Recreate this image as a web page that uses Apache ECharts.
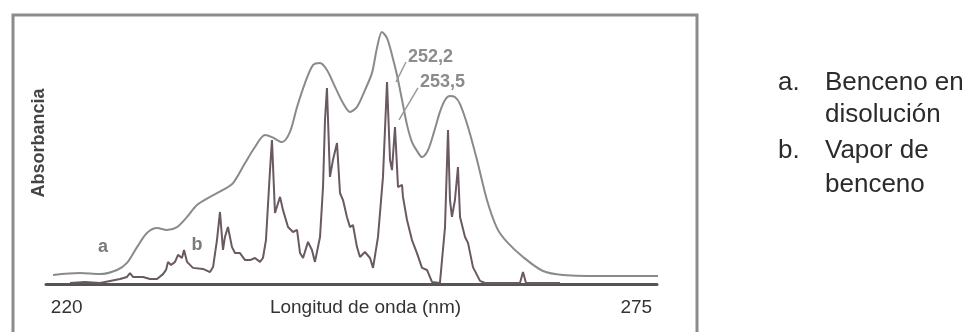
<!DOCTYPE html>
<html>
<head>
<meta charset="utf-8">
<script src="https://cdn.jsdelivr.net/npm/echarts@6/dist/echarts.min.js"></script>
<style>
  html, body { margin: 0; padding: 0; background: #fff; }
  #chart { width: 966px; height: 332px; }
</style>
</head>
<body>
<div id="chart"></div>
<script>
// curva a: benceno en disolución (longitud de onda en nm, absorbancia relativa)
var waveA = [218.68, 221.28, 223.21, 224.86, 225.82, 226.79, 227.75, 228.72, 229.68, 230.65,
  231.62, 232.58, 233.84, 235.09, 236.06, 237.22, 238.18, 239.15, 239.82, 240.79,
  241.56, 242.24, 243.01, 243.78, 244.46, 245.13, 245.91, 246.68, 247.35, 248.03,
  248.80, 249.48, 249.96, 250.44, 250.93, 251.41, 251.89, 252.38, 252.86, 253.34,
  253.82, 254.31, 254.89, 255.47, 256.04, 256.53, 257.01, 257.49, 257.98, 258.75,
  259.62, 260.58, 261.55, 262.51, 264.06, 265.99, 267.92, 272.46, 277.7];
var absA = [3.5, 4.2, 3.8, 5.4, 8.1, 14.2, 19.6, 21.5, 20.8, 21.9,
  25.8, 30.4, 33.5, 36.2, 38.8, 46.5, 52.7, 57.3, 56.5, 54.6,
  58.5, 68.1, 77.3, 84.2, 85.0, 82.3, 75.8, 69.6, 66.2, 68.1,
  74.6, 81.2, 90.8, 96.9, 94.6, 88.1, 80.4, 70.8, 61.2, 54.6,
  51.2, 48.8, 51.5, 58.5, 66.2, 70.8, 72.3, 71.9, 69.2, 60.4,
  47.7, 32.3, 21.5, 16.2, 10.4, 5.0, 3.5, 3.1, 3.1];

// curva b: vapor de benceno
var waveB = [220.32, 221.77, 223.21, 225.15, 225.82, 226.11, 226.40, 227.37, 228.04, 228.72,
  229.30, 229.59, 229.78, 230.07, 230.46, 230.75, 230.94, 231.13, 231.33, 231.62,
  232.19, 233.16, 233.84, 234.13, 234.51, 234.80, 235.09, 235.28, 235.57, 235.96,
  236.25, 236.73, 237.22, 237.70, 238.18, 238.66, 238.95, 239.24, 239.63, 239.82,
  240.11, 240.60, 240.88, 241.37, 241.85, 242.24, 242.53, 242.82, 243.30, 243.68,
  243.97, 244.46, 244.75, 244.94, 245.13, 245.42, 245.71, 246.10, 246.39, 246.68,
  247.06, 247.35, 247.64, 248.03, 248.32, 248.80, 249.29, 249.58, 250.06, 250.54,
  250.93, 251.22, 251.41, 251.70, 251.99, 252.38, 252.47, 252.86, 253.34, 253.82,
  254.31, 254.79, 255.27, 256.04, 256.53, 256.82, 257.01, 257.20, 257.49, 257.78,
  257.98, 258.46, 258.75, 259.23, 259.91, 260.39, 263.77, 264.06, 264.35, 267.63];
var absB = [0.4, 0.8, 0.4, 1.9, 2.7, 4.2, 2.7, 2.7, 1.9, 1.9,
  3.8, 5.4, 8.5, 7.3, 8.5, 11.2, 11.5, 10.0, 13.1, 8.5,
  6.2, 5.8, 4.6, 6.5, 16.9, 27.7, 13.1, 18.1, 21.9, 14.2,
  11.9, 11.9, 9.2, 9.2, 10.0, 8.5, 10.0, 16.9, 43.8, 55.4,
  27.3, 33.5, 28.5, 21.9, 20.0, 20.8, 11.9, 10.0, 16.2, 13.1,
  8.5, 18.1, 37.3, 63.1, 75.4, 41.2, 47.7, 54.2, 35.0, 32.3,
  25.8, 21.9, 22.7, 14.2, 10.4, 12.3, 10.0, 6.2, 18.1, 41.2,
  77.7, 47.7, 43.8, 60.4, 37.3, 38.1, 33.5, 24.6, 16.9, 11.9,
  6.2, 5.4, 0.8, 0.4, 21.9, 59.2, 32.3, 25.8, 32.3, 45.0,
  25.8, 18.1, 15.8, 6.5, 1.2, 0.4, 0.4, 4.6, 0.4, 0.4];

var xTicks = [220, 275];

// etiquetas de los picos
var peakLabels = ['252,2', '253,5'];
var peakText = [[252.96, 87.3], [254.11, 77.7]];
var peakLeader = [[[252.76, 85.4], [251.80, 77.7]], [[253.92, 75.4], [252.09, 63.1]]];

// letras de las curvas dentro del gráfico
var curveNames = ['a', 'b'];
var curveNamePos = [[223.5, 14.2], [232.58, 15.0]];

// leyenda de la derecha
var legendKeys = ['a.', '', 'b.', ''];
var legendLines = ['Benceno en', 'disolución', 'Vapor de', 'benceno'];

function pairs(xs, ys) {
  var out = [];
  for (var i = 0; i < xs.length; i++) out.push([xs[i], ys[i]]);
  return out;
}

var font = '"Liberation Sans", Arial, sans-serif';
var chart = echarts.init(document.getElementById('chart'), null, { renderer: 'canvas' });

var legendGraphics = [];
var legendY = [85, 117, 153, 187];
legendLines.forEach(function (t, i) {
  if (legendKeys[i]) {
    legendGraphics.push({
      type: 'text', left: 778, top: legendY[i] - 15,
      style: { text: legendKeys[i], font: '26px ' + font, fill: '#2b2b2b' }
    });
  }
  legendGraphics.push({
    type: 'text', left: 825, top: legendY[i] - 15,
    style: { text: t, font: '26px ' + font, fill: '#2b2b2b' }
  });
});

var option = {
  animation: false,
  backgroundColor: '#fff',
  grid: { left: 46, right: 309, top: 24, bottom: 48, outerBoundsMode: 'none' },
  xAxis: {
    type: 'value',
    min: 218,
    max: 277,
    name: 'Longitud de onda (nm)',
    nameLocation: 'middle',
    nameGap: 14,
    nameMoveOverlap: false,
    nameTextStyle: { fontFamily: font, fontSize: 19, color: '#333', padding: [0, 0, 0, 28], verticalAlign: 'top' },
    axisLine: { lineStyle: { color: '#555', width: 3 } },
    axisTick: { show: false },
    splitLine: { show: false },
    axisLabel: {
      customValues: xTicks,
      margin: 14,
      fontFamily: font,
      fontSize: 19,
      color: '#333'
    }
  },
  yAxis: {
    type: 'value',
    min: 0,
    max: 100,
    name: 'Absorbancia',
    nameLocation: 'middle',
    nameRotate: 90,
    nameGap: -2,
    nameMoveOverlap: false,
    nameTextStyle: { fontFamily: font, fontSize: 18, fontWeight: 'bold', color: '#444', padding: [0, 0, 0, 22] },
    axisLine: { show: false },
    axisTick: { show: false },
    axisLabel: { show: false },
    splitLine: { show: false }
  },
  series: [
    {
      name: 'a',
      type: 'line',
      data: pairs(waveA, absA),
      smooth: 0.3,
      showSymbol: false,
      clip: false,
      lineStyle: { color: '#8a8a8a', width: 2 },
      markPoint: {
        symbolSize: 0,
        label: { show: true, position: 'inside', fontFamily: font, fontSize: 18, fontWeight: 'bold', color: '#7a7a7a',
          formatter: function (p) { return p.name; } },
        data: curveNames.map(function (n, i) { return { name: n, coord: curveNamePos[i] }; })
      }
    },
    {
      name: 'b',
      type: 'line',
      data: pairs(waveB, absB),
      showSymbol: false,
      lineStyle: { color: '#6a5862', width: 2 },
      markLine: {
        silent: true,
        symbol: 'none',
        label: { show: false },
        lineStyle: { color: '#999', width: 1.5, type: 'solid' },
        data: peakLeader.map(function (seg) { return [{ coord: seg[0] }, { coord: seg[1] }]; })
      },
      markPoint: {
        symbolSize: 0,
        label: { show: true, position: 'right', distance: 0, fontFamily: font, fontSize: 18, fontWeight: 'bold', color: '#8c8c8c',
          formatter: function (p) { return p.name; } },
        data: peakLabels.map(function (n, i) { return { name: n, coord: peakText[i] }; })
      }
    }
  ],
  graphic: [
    {
      type: 'rect',
      shape: { x: 13, y: 15, width: 684, height: 340 },
      style: { fill: 'none', stroke: '#8c8c8c', lineWidth: 3 }
    }
  ].concat(legendGraphics)
};

chart.setOption(option);
</script>
</body>
</html>
